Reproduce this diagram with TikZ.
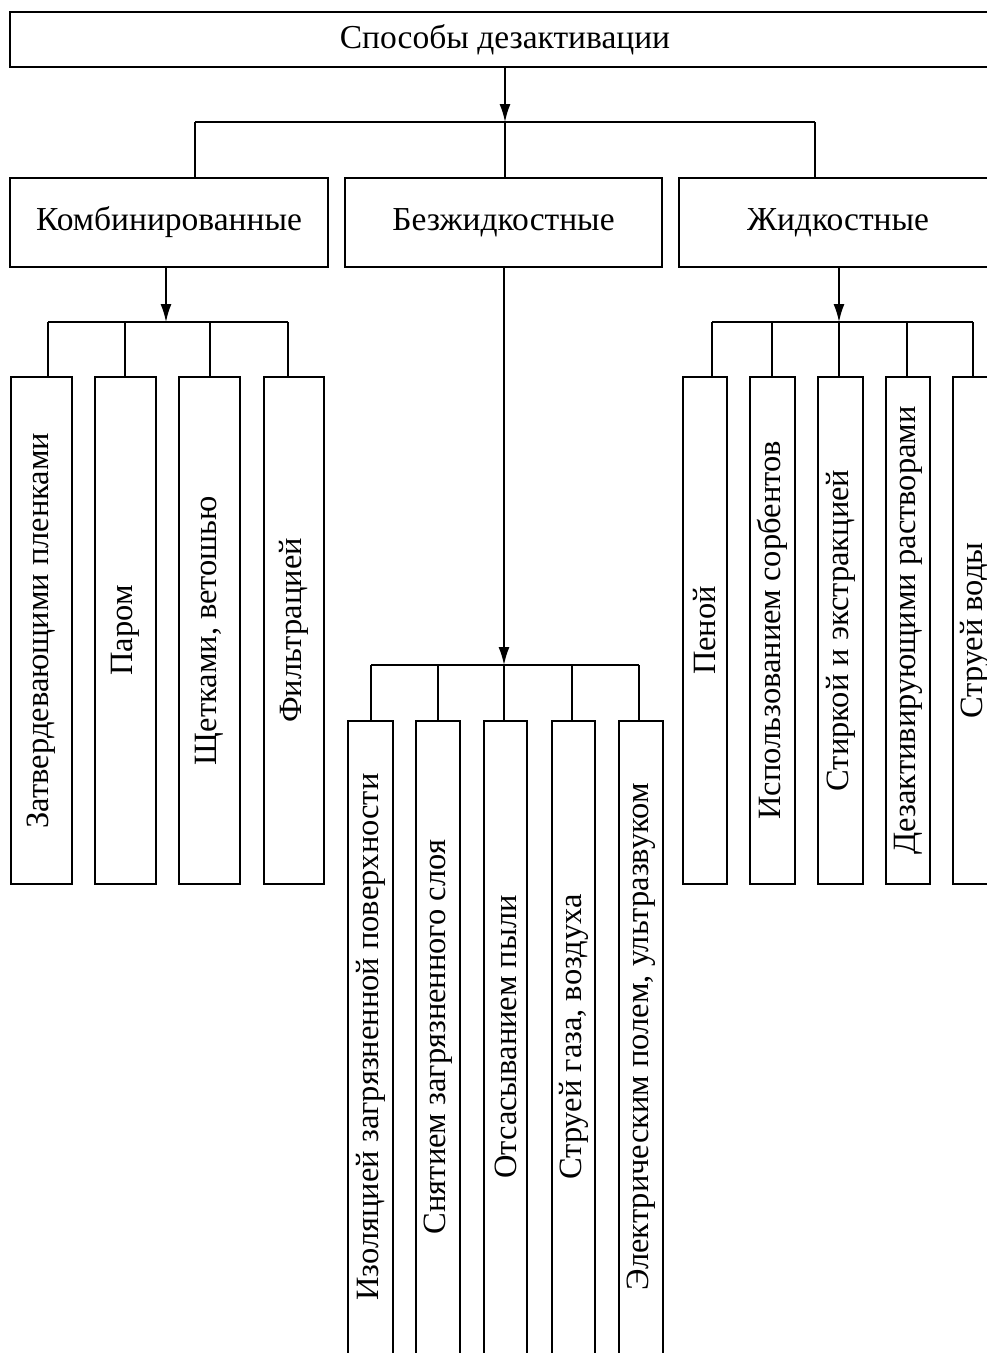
\documentclass[tikz,border=0pt]{standalone}
\usepackage{fontspec}
\setmainfont{Liberation Serif}
\usetikzlibrary{arrows.meta}
\begin{document}
\begin{tikzpicture}[x=1pt,y=-1pt,
  box/.style={draw,line width=1.8pt,inner sep=0pt,outer sep=0pt,align=center},
  hfont/.style={font=\fontsize{33.5}{38}\selectfont},
  vfont/.style={font=\fontsize{32.5}{38}\selectfont},
  link/.style={line width=1.6pt},
  arr/.style={link,-{Latex[length=18pt,width=11pt]}}]
\useasboundingbox (0,0) rectangle (987,1353);
\clip (0,0) rectangle (987,1353);
% level 1
\node[box,hfont,minimum width=990pt,minimum height=55pt] (top) at (505,39.5) {Способы дезактивации};
% level 2
\node[box,hfont,minimum width=318pt,minimum height=89pt] (komb) at (169,222.5) {Комбинированные};
\node[box,hfont,minimum width=317pt,minimum height=89pt] (bezh) at (503.5,222.5) {Безжидкостные};
\node[box,hfont,minimum width=318pt,minimum height=89pt] (zhid) at (838,222.5) {Жидкостные};
% level 3 left
\node[box,vfont,minimum width=61pt,minimum height=507pt] (L1) at (41.5,630.5) {\rotatebox{90}{Затвердевающими пленками}};
\node[box,vfont,minimum width=61pt,minimum height=507pt] (L2) at (125.5,630.5) {\rotatebox{90}{Паром}};
\node[box,vfont,minimum width=61pt,minimum height=507pt] (L3) at (209.5,630.5) {\rotatebox{90}{Щетками, ветошью}};
\node[box,vfont,minimum width=60pt,minimum height=507pt] (L4) at (294,630.5) {\rotatebox{90}{Фильтрацией}};
% level 3 right
\node[box,vfont,minimum width=44pt,minimum height=507pt] (R1) at (705,630.5) {\rotatebox{90}{Пеной}};
\node[box,vfont,minimum width=45pt,minimum height=507pt] (R2) at (772.5,630.5) {\rotatebox{90}{Использованием сорбентов}};
\node[box,vfont,minimum width=45pt,minimum height=507pt] (R3) at (840.5,630.5) {\rotatebox{90}{Стиркой и экстракцией}};
\node[box,vfont,minimum width=44pt,minimum height=507pt] (R4) at (908,630.5) {\rotatebox{90}{Дезактивирующими растворами}};
\node[box,vfont,minimum width=44pt,minimum height=507pt] (R5) at (975,630.5) {\rotatebox{90}{Струей воды}};
% level 3 middle (cut off by the lower edge)
\node[box,vfont,minimum width=45pt,minimum height=654pt] (M1) at (370.5,1048) {\rotatebox{90}{\hspace*{22pt}Изоляцией загрязненной поверхности}};
\node[box,vfont,minimum width=44pt,minimum height=654pt] (M2) at (438,1048) {\rotatebox{90}{\hspace*{22pt}Снятием загрязненного слоя}};
\node[box,vfont,minimum width=43pt,minimum height=654pt] (M3) at (505.5,1048) {\rotatebox{90}{\hspace*{22pt}Отсасыванием пыли}};
\node[box,vfont,minimum width=43pt,minimum height=654pt] (M4) at (573.5,1048) {\rotatebox{90}{\hspace*{22pt}Струей газа, воздуха}};
\node[box,vfont,minimum width=44pt,minimum height=654pt] (M5) at (641,1048) {\rotatebox{90}{\hspace*{22pt}Электрическим полем, ультразвуком}};
% connectors level 1 -> 2
\coordinate (j0) at (505,122);
\coordinate (j0l) at (195,122);
\coordinate (j0r) at (815,122);
\draw[arr] (top.south) -- (j0);
\draw[link] (j0l) -- (j0r);
\draw[link] (j0l) -- (j0l |- komb.north);
\draw[link] (j0) -- (j0 |- bezh.north);
\draw[link] (j0r) -- (j0r |- zhid.north);
% komb -> left
\coordinate (k0) at (166,322);
\coordinate (k1) at (48,322);
\coordinate (k2) at (125,322);
\coordinate (k3) at (210,322);
\coordinate (k4) at (288,322);
\draw[arr] (k0 |- komb.south) -- (k0);
\draw[link] (k1) -- (k4);
\draw[link] (k1) -- (k1 |- L1.north);
\draw[link] (k2) -- (k2 |- L2.north);
\draw[link] (k3) -- (k3 |- L3.north);
\draw[link] (k4) -- (k4 |- L4.north);
% bezh -> middle
\coordinate (b0) at (504,665);
\coordinate (b1) at (371,665);
\coordinate (b2) at (438,665);
\coordinate (b4) at (572,665);
\coordinate (b5) at (639,665);
\draw[arr] (b0 |- bezh.south) -- (b0);
\draw[link] (b1) -- (b5);
\draw[link] (b1) -- (b1 |- M1.north);
\draw[link] (b2) -- (b2 |- M2.north);
\draw[link] (b0) -- (b0 |- M3.north);
\draw[link] (b4) -- (b4 |- M4.north);
\draw[link] (b5) -- (b5 |- M5.north);
% zhid -> right
\coordinate (z0) at (839,322);
\coordinate (z1) at (712,322);
\coordinate (z2) at (772,322);
\coordinate (z4) at (907,322);
\coordinate (z5) at (973,322);
\draw[arr] (z0 |- zhid.south) -- (z0);
\draw[link] (z1) -- (z5);
\draw[link] (z1) -- (z1 |- R1.north);
\draw[link] (z2) -- (z2 |- R2.north);
\draw[link] (z0) -- (z0 |- R3.north);
\draw[link] (z4) -- (z4 |- R4.north);
\draw[link] (z5) -- (z5 |- R5.north);
\end{tikzpicture}
\end{document}
